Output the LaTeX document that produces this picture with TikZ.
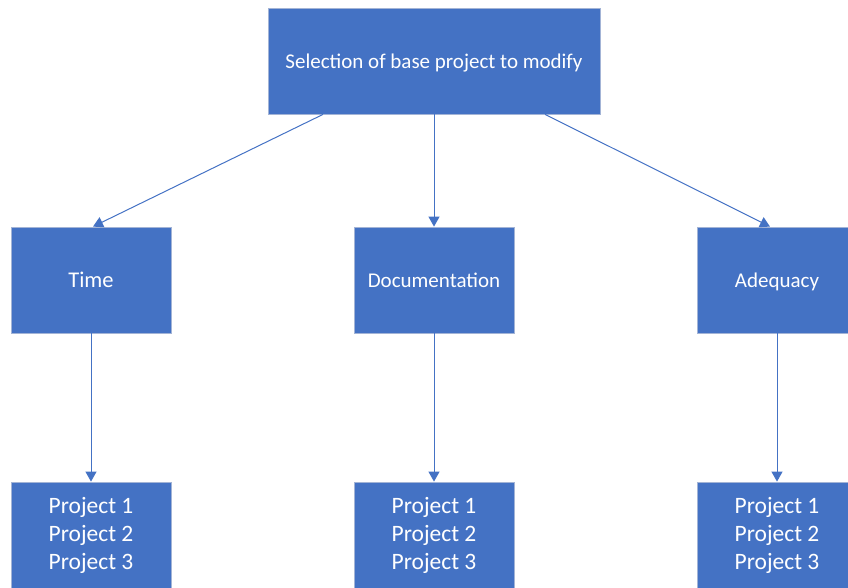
\documentclass[tikz,border=0pt]{standalone}
\usepackage{fontspec}
\setmainfont{Carlito}
\usepackage{tikz}
\usetikzlibrary{arrows.meta}
\definecolor{boxblue}{HTML}{4472C4}
\definecolor{boxedge}{HTML}{A3B4D6}

\begin{document}
\begin{tikzpicture}[x=1pt,y=-1pt,
		box/.style={rectangle,fill=boxblue,draw=boxedge,line width=0.8pt,
			minimum width=160pt,minimum height=106pt,inner sep=0pt,
			text=white,align=center},
		labelbox/.style={box,font=\fontsize{21}{25}\selectfont,text height=17pt,text depth=2pt},
		projbox/.style={box,font=\fontsize{23.5}{28}\selectfont},
		>={Triangle[length=10pt,width=11pt]},
		link/.style={->,draw=boxblue,line width=1pt}]
		\useasboundingbox (0,0) rectangle (848,587);
		\clip (0,0) rectangle (848,587);
		
		\node[labelbox,minimum width=332pt] (base) at (434,61) {Selection of base project to modify};
		
		\node[labelbox,font=\fontsize{22.5}{26}\selectfont] (time) at (91,280) {Time};
		\node[labelbox] (doc) at (434,280) {Documentation};
		\node[labelbox] (adeq) at (777,280) {Adequacy};
		
		\node[projbox] (ptime) at (91,535) {Project 1\\Project 2\\Project 3};
		\node[projbox] (pdoc) at (434,535) {Project 1\\Project 2\\Project 3};
		\node[projbox] (padeq) at (777,535) {Project 1\\Project 2\\Project 3};
		
		\draw[link] ([xshift=-111pt]base.south) -- ([xshift=2pt]time.north);
		\draw[link] (base.south) -- (doc.north);
		\draw[link] ([xshift=111pt]base.south) -- ([xshift=-7pt]adeq.north);
		
		\draw[link] (time.south) -- (ptime.north);
		\draw[link] (doc.south) -- (pdoc.north);
		\draw[link] (adeq.south) -- (padeq.north);
		
	\end{tikzpicture}
\end{document}
